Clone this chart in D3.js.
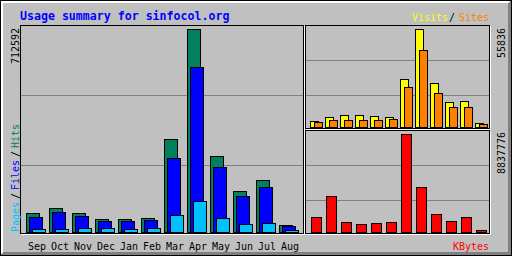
<!DOCTYPE html>
<html>
<head>
<meta charset="utf-8">
<script src="https://cdn.jsdelivr.net/npm/d3@7"></script>
<style>
    body { margin: 0; background: #fff; }
    svg { display: block; }
    text { font-family: "DejaVu Sans Mono", monospace; font-size: 10px; }
</style>
</head>
<body>
<svg width="512" height="256"></svg>
<script>
// monthly totals
const months = ["Sep", "Oct", "Nov", "Dec", "Jan", "Feb", "Mar", "Apr", "May", "Jun", "Jul", "Aug"];
const hits   = [65600, 83200, 65600, 45600, 45600, 48100, 325400, 712592, 265700, 142900, 181500, 23500];
const files  = [51600, 70200, 56200, 38600, 38600, 42100, 258700, 578200, 227100, 125300, 156900, 22000];
const pages  = [10500, 10500, 14000, 14000, 10500, 14000, 58600, 107800, 48100, 27000, 30500, 6000];
const visits = [3400, 5700, 6800, 6800, 6100, 5700, 27200, 55836, 25100, 14200, 14800, 2300];
const sites  = [2700, 4000, 4000, 4000, 4000, 4600, 22800, 43700, 19400, 11400, 11400, 1500];
const kbytes = [1325000, 3246000, 875000, 694000, 785000, 875000, 8837776, 4058000, 1596000, 965000, 1325000, 153000];

const col = {
    bg: "#c0c0c0", dk: "#808080", white: "#ffffff", black: "#000000",
    hit: "#00805c", file: "#0000ff", page: "#00c0ff",
    visit: "#ffff00", site: "#ff8000", kbyte: "#ff0000", title: "#0000ff"
};

const svg = d3.select("svg").attr("shape-rendering", "crispEdges");

// background and 3D border
svg.append("rect").attr("width", 512).attr("height", 256).attr("fill", col.bg);
svg.append("path").attr("d", "M0,0H511L508,3H3V252L0,256Z").attr("fill", col.white);
svg.append("path").attr("d", "M511,0V256H0L3,252H508V3Z").attr("fill", col.dk);
svg.append("rect").attr("x", 0.5).attr("y", 0.5).attr("width", 511).attr("height", 255)
    .attr("fill", "none").attr("stroke", col.black);

// panel frames: black box with a white shadow on right and bottom
function frame(x1, y1, x2, y2) {
    svg.append("rect").attr("x", x1 + 0.5).attr("y", y1 + 0.5)
        .attr("width", x2 - x1).attr("height", y2 - y1)
        .attr("fill", "none").attr("stroke", col.black);
    svg.append("line").attr("x1", x2 + 1.5).attr("x2", x2 + 1.5).attr("y1", y1 + 1).attr("y2", y2 + 2)
        .attr("stroke", col.white);
    svg.append("line").attr("x1", x1 + 1).attr("x2", x2 + 2).attr("y1", y2 + 1.5).attr("y2", y2 + 1.5)
        .attr("stroke", col.white);
}

function grid(x1, x2, ys) {
    ys.forEach(y => svg.append("line")
        .attr("x1", x1).attr("x2", x2).attr("y1", y + 0.5).attr("y2", y + 0.5)
        .attr("stroke", col.dk));
}

grid(21, 303, [95, 165]);
grid(306, 489, [60, 95]);
grid(306, 489, [165, 200]);
frame(20, 25, 303, 233);
frame(305, 25, 489, 128);
frame(305, 130, 489, 233);

// scales
const xLeft = d3.scaleBand().domain(months).range([26, 26 + 12 * 23]);
const xRight = d3.scaleBand().domain(months).range([310, 310 + 12 * 15]);
const yLeft = d3.scaleLinear().domain([0, d3.max(hits)]).range([232, 29]);
const yTop = d3.scaleLinear().domain([0, d3.max(visits)]).range([127, 29]);
const yBot = d3.scaleLinear().domain([0, d3.max(kbytes)]).range([232, 134]);

function bars(values, x, y, dx, w, color) {
    const base = y(0);
    svg.append("g").selectAll("rect")
        .data(values)
        .join("rect")
        .attr("x", (d, i) => x(months[i]) + dx + 0.5)
        .attr("y", d => Math.round(y(d)) + 0.5)
        .attr("width", w)
        .attr("height", d => base - Math.round(y(d)))
        .attr("fill", color)
        .attr("stroke", col.black);
}

bars(hits, xLeft, yLeft, 0, 13, col.hit);
bars(files, xLeft, yLeft, 3, 13, col.file);
bars(pages, xLeft, yLeft, 6, 13, col.page);
bars(visits, xRight, yTop, 0, 8, col.visit);
bars(sites, xRight, yTop, 4, 8, col.site);
bars(kbytes, xRight, yBot, 1, 10, col.kbyte);

// title
svg.append("text").attr("x", 20).attr("y", 20)
    .style("font-size", "11.6px").style("font-weight", "bold")
    .attr("fill", col.title)
    .text("Usage summary for sinfocol.org");

// month labels
svg.append("g").selectAll("text")
    .data(months)
    .join("text")
    .attr("x", d => xLeft(d) + 2)
    .attr("y", 250)
    .attr("fill", col.black)
    .text(d => d);

svg.append("text").attr("x", 453).attr("y", 250).attr("fill", col.kbyte).text("KBytes");

svg.append("text").attr("x", 412).attr("y", 21).attr("fill", col.visit).text("Visits");
svg.append("text").attr("x", 449).attr("y", 21).attr("fill", col.black).text("/");
svg.append("text").attr("x", 459).attr("y", 21).attr("fill", col.site).text("Sites");

// vertical labels, reading upwards
function upText(x, y) {
    return svg.append("text").attr("transform", `translate(${x},${y}) rotate(-90)`);
}

[["Pages", 232, col.page], ["/", 199, col.black], ["Files", 190, col.file],
 ["/", 157, col.black], ["Hits", 148, col.hit]].forEach(([t, y, c]) => {
    upText(19, y).attr("fill", c).text(t);
});

[[19, 28, d3.max(hits)], [505, 28, d3.max(visits)], [505, 132, d3.max(kbytes)]].forEach(([x, top, v]) => {
    const s = String(v);
    upText(x, top + s.length * 6).attr("fill", col.black).text(s);
});
</script>
</body>
</html>
